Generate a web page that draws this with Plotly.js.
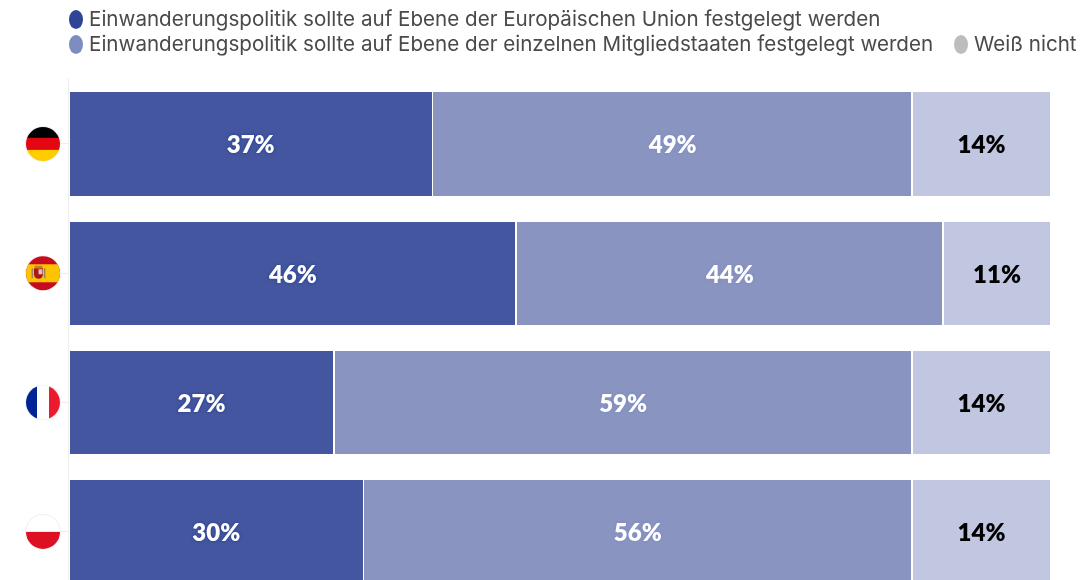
<!DOCTYPE html>
<html><head><meta charset="utf-8">
<script src="https://cdn.plot.ly/plotly-3.0.1.min.js"></script>
<style>html,body{margin:0;padding:0;background:#fff;overflow:hidden}#c{width:1087px;height:580px;filter:blur(0.4px)}</style>
</head><body><div id="c"></div>
<script>
const countries = ['Deutschland','Spanien','Frankreich','Polen'];
const euShare = [37, 45.5, 27, 30];
const memberShare = [48.85, 43.5, 58.85, 55.85];
const unknownShare = [14.15, 11, 14.15, 14.15];
const euLabels = ['37%','46%','27%','30%'];
const memberLabels = ['49%','44%','59%','56%'];
const unknownLabels = ['14%','11%','14%','14%'];
const seriesNames = [
  'Einwanderungspolitik sollte auf Ebene der Europäischen Union festgelegt werden',
  'Einwanderungspolitik sollte auf Ebene der einzelnen Mitgliedstaaten festgelegt werden',
  'Weiß nicht'];
const barColors = ['#43569f','#8a94c1','#c2c7e1'];
const legendColors = ['#2f4496','#7e8dc0','#bdbdbd'];
const labelColors = ['#ffffff','#ffffff','#000000'];
const labelShadows = ['0 0 3px #2f4496, 0 0 2px #2f4496','0 0 3px #7e8dc0, 0 0 2px #7e8dc0','none'];
const LABEL_FONT = 'Lato, "Noto Sans", sans-serif';
const LEGEND_FONT = 'Inter, "Noto Sans", sans-serif';

function svg(inner){
  return 'data:image/svg+xml;charset=utf-8,' + encodeURIComponent(
   '<svg xmlns="http://www.w3.org/2000/svg" width="72" height="72" viewBox="0 0 36 36"><defs><clipPath id="k"><circle cx="18" cy="18" r="17"/></clipPath></defs><circle cx="18" cy="18" r="18" fill="#f1f1f1"/><g clip-path="url(#k)">'+inner+'</g></svg>');
}
const flags = [
 svg('<rect width="36" height="12" fill="#000"/><rect y="12" width="36" height="12" fill="#e30613"/><rect y="24" width="36" height="12" fill="#ffcc00"/>'),
 svg('<rect width="36" height="36" fill="#c60b1e"/><rect y="9" width="36" height="18" fill="#ffc400"/><path d="M9 13h9v6a4.5 4.5 0 0 1-9 0z" fill="#ad1519"/><rect x="13.5" y="14" width="4" height="5" fill="#d8c7b8"/><rect x="9.5" y="10.5" width="8" height="2.4" rx="1" fill="#b5862a"/><rect x="6.5" y="13" width="1.6" height="10" fill="#9a8a60"/><rect x="18.9" y="13" width="1.6" height="10" fill="#9a8a60"/>'),
 svg('<rect width="36" height="36" fill="#fff"/><rect width="12" height="36" fill="#002395"/><rect x="24" width="12" height="36" fill="#ed1a2f"/>'),
 svg('<rect width="36" height="18" fill="#fff"/><rect y="18" width="36" height="18" fill="#dc0f23"/>')
];

const seriesVals = [euShare, memberShare, unknownShare];
const seriesLabels = [euLabels, memberLabels, unknownLabels];
const traces = seriesVals.map((v,i)=>({
  type:'bar', orientation:'h', name:seriesNames[i], x:v, y:countries,
  width:0.81,
  marker:{color:barColors[i], line:{color:'#ffffff', width:1.5}},
  text:seriesLabels[i], textposition:'inside', insidetextanchor:'middle', constraintext:'none',
  textangle:0,
  textfont:{family:LABEL_FONT, size:24, weight:800, color:labelColors[i], shadow:labelShadows[i]},
  hoverinfo:'name+x'
}));

const LEFT=69, PLOT_W=982, TOP=78, PLOT_H=502;
const legendPos = [[87,18],[87,43],[972,43]];
const annotations = seriesNames.map((n,i)=>({
  xref:'paper', yref:'paper', xanchor:'left', yanchor:'middle',
  x:(legendPos[i][0]-LEFT)/PLOT_W, y:(PLOT_H-(legendPos[i][1]-TOP))/PLOT_H, showarrow:false,
  text:n, align:'left', font:{family:LEGEND_FONT, size:20.6, color:'#4a4a4a'}
}));
const shapes = seriesNames.map((n,i)=>({
  type:'circle', xref:'paper', yref:'paper', layer:'above', line:{width:0}, fillcolor:legendColors[i],
  x0:(legendPos[i][0]-18-LEFT)/PLOT_W, x1:(legendPos[i][0]-4-LEFT)/PLOT_W,
  y0:(PLOT_H-(legendPos[i][1]+11-TOP))/PLOT_H, y1:(PLOT_H-(legendPos[i][1]-8-TOP))/PLOT_H
}));

const images = flags.map((src,i)=>({
  source:src, xref:'paper', yref:'y', x:(43-LEFT)/PLOT_W, y:countries[i], sizex:36/PLOT_W, sizey:36/129.3,
  xanchor:'center', yanchor:'middle', sizing:'stretch', layer:'above'
}));

Plotly.newPlot('c', traces, {
  width:1087, height:580, barmode:'stack', showlegend:false,
  margin:{l:LEFT, r:1087-LEFT-PLOT_W, t:TOP, b:0, pad:0},
  paper_bgcolor:'#ffffff', plot_bgcolor:'#ffffff',
  xaxis:{range:[0,100], visible:false, fixedrange:true},
  yaxis:{type:'category', categoryorder:'array', categoryarray:countries,
    range:[3.372,-0.51], showgrid:false, zeroline:false,
    showline:true, linecolor:'#eeeeee', linewidth:1,
    ticks:'outside', ticklen:9, tickcolor:'#eeeeee', showticklabels:false, fixedrange:true},
  annotations, shapes, images
}, {displayModeBar:false, staticPlot:true});
</script></body></html>
